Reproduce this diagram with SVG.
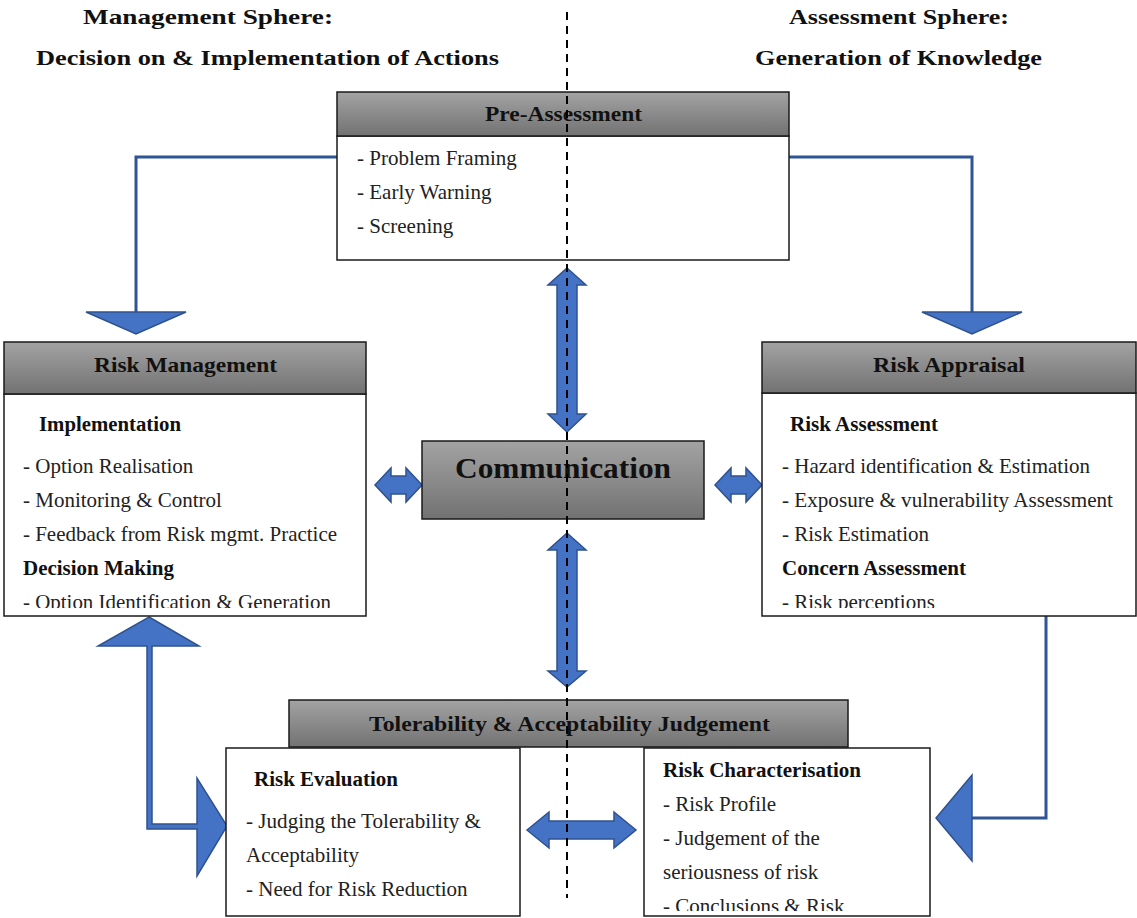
<svg xmlns="http://www.w3.org/2000/svg" width="1137" height="918" viewBox="0 0 1137 918">
  <defs>
    <linearGradient id="hdr" x1="0" y1="0" x2="0" y2="1">
      <stop offset="0" stop-color="#a3a3a3"/>
      <stop offset="1" stop-color="#727272"/>
    </linearGradient>
    <clipPath id="clipRM"><rect x="4" y="394" width="362" height="214"/></clipPath>
    <clipPath id="clipRA"><rect x="762" y="393" width="374" height="215"/></clipPath>
    <clipPath id="clipRC"><rect x="644" y="748" width="286" height="163"/></clipPath>
  </defs>
  <style>
    .hdr { fill: url(#hdr); stroke: #1a1a1a; stroke-width: 1.5; }
    .body { fill: #ffffff; stroke: #1a1a1a; stroke-width: 1.5; }
    .ttl { font-family: "Liberation Serif", "Times New Roman", serif; font-weight: bold; font-size: 21px; fill: #111; }
    .big { font-family: "Liberation Serif", "Times New Roman", serif; font-weight: bold; font-size: 22px; fill: #111; }
    .sub { font-family: "Liberation Serif", "Times New Roman", serif; font-weight: bold; font-size: 20.5px; fill: #111; }
    .item { font-family: "Liberation Serif", "Times New Roman", serif; font-size: 21px; fill: #222; }
    .line { fill: none; stroke: #2f5597; stroke-width: 3; }
    .blk { fill: #4472c4; stroke: #2f528f; stroke-width: 1.5; }
    .divider { stroke: #000; stroke-width: 2; stroke-dasharray: 8 6; }
  </style>

  <!-- sphere headings -->
  <g id="headings">
    <text class="big" x="83" y="24" textLength="250" lengthAdjust="spacingAndGlyphs">Management Sphere:</text>
    <text class="big" x="36" y="65" textLength="463" lengthAdjust="spacingAndGlyphs">Decision on &amp; Implementation of Actions</text>
    <text class="big" x="789" y="24" textLength="220" lengthAdjust="spacingAndGlyphs">Assessment Sphere:</text>
    <text class="big" x="755" y="65" textLength="287" lengthAdjust="spacingAndGlyphs">Generation of Knowledge</text>
  </g>

  <!-- connectors -->
  <g id="connectors">
    <!-- pre-assessment to risk management -->
    <polyline class="line" points="337,157 136,157 136,313"/>
    <polygon class="blk" points="86,312 186,312 136,334"/>
    <!-- pre-assessment to risk appraisal -->
    <polyline class="line" points="789,157 972,157 972,313"/>
    <polygon class="blk" points="922,312 1022,312 972,334"/>
    <!-- risk appraisal to risk characterisation -->
    <polyline class="line" points="1046,616 1046,818 970,818"/>
    <polygon class="blk" points="972,775 972,861 936,818"/>
    <!-- risk evaluation back to risk management -->
    <path class="blk" d="M149,617 L199,646 L152,646 L152,824 L197,824 L197,778 L227,826 L197,876 L197,829 L147,829 L147,646 L98,646 Z"/>
    <!-- pre-assessment <-> communication -->
    <path class="blk" d="M567,268 L586,285 L577,285 L577,414 L586,414 L567,432 L548,414 L557,414 L557,285 L548,285 Z"/>
    <!-- communication <-> tolerability judgement -->
    <path class="blk" d="M567,533 L586,550 L577,550 L577,671 L586,671 L567,687 L548,671 L557,671 L557,550 L548,550 Z"/>
    <!-- risk management <-> communication -->
    <path class="blk" d="M375,485 L391,468 L391,476 L406,476 L406,468 L422,485 L406,502 L406,494 L391,494 L391,502 Z"/>
    <!-- communication <-> risk appraisal -->
    <path class="blk" d="M715,485 L731,468 L731,476 L746,476 L746,468 L762,485 L746,502 L746,494 L731,494 L731,502 Z"/>
    <!-- risk evaluation <-> risk characterisation -->
    <path class="blk" d="M527,830 L549,812 L549,821 L614,821 L614,812 L636,830 L614,848 L614,839 L549,839 L549,848 Z"/>
  </g>

  <!-- Pre-Assessment -->
  <g id="pre-assessment">
    <rect class="body" x="337" y="136" width="452" height="124"/>
    <rect class="hdr" x="337" y="92" width="452" height="44"/>
    <text class="ttl" x="485" y="121" textLength="157" lengthAdjust="spacingAndGlyphs">Pre-Assessment</text>
    <text class="item" x="357" y="165">- Problem Framing</text>
    <text class="item" x="357" y="199">- Early Warning</text>
    <text class="item" x="357" y="233">- Screening</text>
  </g>

  <!-- Risk Management -->
  <g id="risk-management">
    <rect class="body" x="4" y="394" width="362" height="222"/>
    <rect class="hdr" x="4" y="342" width="362" height="52"/>
    <text class="ttl" x="94" y="372" textLength="183" lengthAdjust="spacingAndGlyphs">Risk Management</text>
    <g clip-path="url(#clipRM)">
      <text class="sub" x="39" y="431" textLength="142" lengthAdjust="spacingAndGlyphs">Implementation</text>
      <text class="item" x="23" y="473">- Option Realisation</text>
      <text class="item" x="23" y="507">- Monitoring &amp; Control</text>
      <text class="item" x="23" y="541" textLength="314" lengthAdjust="spacingAndGlyphs">- Feedback from Risk mgmt. Practice</text>
      <text class="sub" x="23" y="575" textLength="151" lengthAdjust="spacingAndGlyphs">Decision Making</text>
      <text class="item" x="23" y="609" textLength="308" lengthAdjust="spacingAndGlyphs">- Option Identification &amp; Generation</text>
    </g>
  </g>

  <!-- Risk Appraisal -->
  <g id="risk-appraisal">
    <rect class="body" x="762" y="393" width="374" height="223"/>
    <rect class="hdr" x="762" y="342" width="374" height="51"/>
    <text class="ttl" x="873" y="372" textLength="152" lengthAdjust="spacingAndGlyphs">Risk Appraisal</text>
    <g clip-path="url(#clipRA)">
      <text class="sub" x="790" y="431" textLength="148" lengthAdjust="spacingAndGlyphs">Risk Assessment</text>
      <text class="item" x="782" y="473" textLength="308" lengthAdjust="spacingAndGlyphs">- Hazard identification &amp; Estimation</text>
      <text class="item" x="782" y="507" textLength="331" lengthAdjust="spacingAndGlyphs">- Exposure &amp; vulnerability Assessment</text>
      <text class="item" x="782" y="541">- Risk Estimation</text>
      <text class="sub" x="782" y="575" textLength="184" lengthAdjust="spacingAndGlyphs">Concern Assessment</text>
      <text class="item" x="782" y="609">- Risk perceptions</text>
    </g>
  </g>

  <!-- Communication -->
  <g id="communication">
    <rect class="hdr" x="422" y="441" width="282" height="78"/>
    <text x="455" y="478" textLength="216" lengthAdjust="spacingAndGlyphs" font-family="Liberation Serif, Times New Roman, serif" font-weight="bold" font-size="29" fill="#111">Communication</text>
  </g>

  <!-- Tolerability & Acceptability Judgement -->
  <g id="tolerability">
    <rect class="hdr" x="289" y="700" width="559" height="47"/>
    <text class="ttl" x="369" y="731" textLength="401" lengthAdjust="spacingAndGlyphs">Tolerability &amp; Acceptability Judgement</text>
  </g>

  <!-- Risk Evaluation -->
  <g id="risk-evaluation">
    <rect class="body" x="226" y="748" width="294" height="168"/>
    <text class="sub" x="254" y="786" textLength="144" lengthAdjust="spacingAndGlyphs">Risk Evaluation</text>
    <text class="item" x="246" y="828" textLength="235" lengthAdjust="spacingAndGlyphs">- Judging the Tolerability &amp;</text>
    <text class="item" x="246" y="862">Acceptability</text>
    <text class="item" x="246" y="896">- Need for Risk Reduction</text>
  </g>

  <!-- Risk Characterisation -->
  <g id="risk-characterisation">
    <rect class="body" x="644" y="748" width="286" height="168"/>
    <g clip-path="url(#clipRC)">
      <text class="sub" x="663" y="777" textLength="198" lengthAdjust="spacingAndGlyphs">Risk Characterisation</text>
      <text class="item" x="663" y="811">- Risk Profile</text>
      <text class="item" x="663" y="845">- Judgement of the</text>
      <text class="item" x="663" y="879">seriousness of risk</text>
      <text class="item" x="663" y="913">- Conclusions &amp; Risk</text>
    </g>
  </g>

  <!-- sphere divider -->
  <line class="divider" x1="567" y1="12" x2="567" y2="898"/>
</svg>
